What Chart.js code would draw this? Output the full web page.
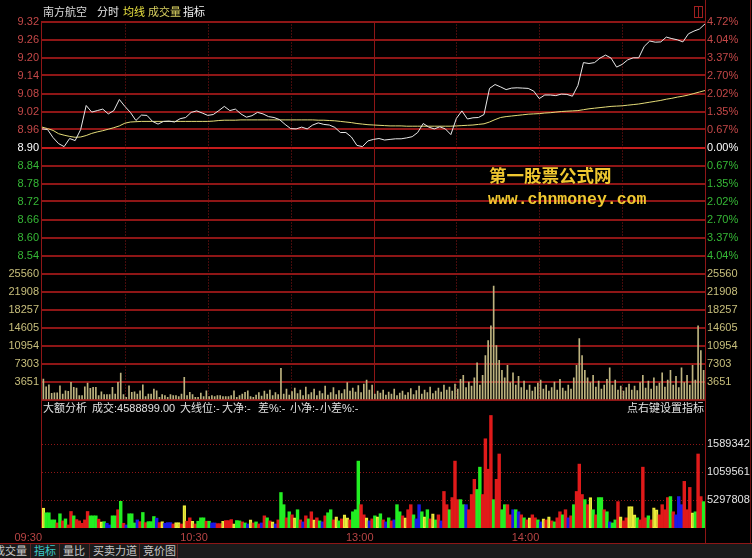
<!DOCTYPE html>
<html><head><meta charset="utf-8">
<script src="https://cdn.jsdelivr.net/npm/chart.js@4.4.1/dist/chart.umd.min.js"></script>
<style>
html,body{margin:0;padding:0;background:#000;width:752px;height:558px;overflow:hidden;}
#wrap{position:relative;width:752px;height:558px;background:#000;font-family:"Liberation Sans","Noto Sans CJK SC",sans-serif;font-size:11px;overflow:hidden;}
canvas{position:absolute;left:0;}
.t{position:absolute;white-space:nowrap;line-height:14px;color:#e0e0e0;}
.ln{position:absolute;background:#8e1616;}
.tab{position:absolute;top:544px;height:14px;line-height:14px;color:#c8c8c8;white-space:nowrap;}
.sep{position:absolute;top:544px;width:1px;height:14px;background:#5a2626;}
</style></head><body><div id="wrap">
<canvas id="cPrice" width="752" height="286" style="top:0px"></canvas>
<canvas id="cVol" width="752" height="150" style="top:262px"></canvas>
<canvas id="cBig" width="752" height="155" style="top:388px"></canvas>

<div class="ln" style="left:41px;top:21px;width:1px;height:507px"></div>
<div class="ln" style="left:705px;top:0px;width:1px;height:543px"></div>
<div class="ln" style="left:750px;top:0px;width:1px;height:543px;background:#6a1010"></div>
<div class="ln" style="left:0px;top:543px;width:752px;height:1px"></div>
<div style="position:absolute;left:694px;top:6px;width:7px;height:10px;border:1px solid #a02020"></div>
<div style="position:absolute;left:698px;top:7px;width:1px;height:10px;background:#a02020"></div>

<div class="t" style="left:43px;top:5px;color:#d8d8d8" id="hName"></div>
<div class="t" style="left:97px;top:5px;color:#e8e8e8">分时</div>
<div class="t" style="left:123px;top:5px;color:#e8e040">均线</div>
<div class="t" style="left:148px;top:5px;color:#d8d060">成交量</div>
<div class="t" style="left:183px;top:5px;color:#f0f0f0">指标</div>

<div class="t" style="left:489px;top:163px;font:bold 17.5px 'Noto Sans CJK SC';line-height:24px;color:#f0c830">第一股票公式网</div>
<div class="t" style="left:488px;top:191px;font:bold 16.5px 'Liberation Mono';line-height:18px;color:#f0c830">www.chnmoney.com</div>

<div class="t" style="left:43px;top:401px">大额分析</div>
<div class="t" style="left:92px;top:401px">成交:4588899.00</div>
<div class="t" style="left:180px;top:401px">大线位:-</div>
<div class="t" style="left:222px;top:401px">大净:-</div>
<div class="t" style="left:258px;top:401px">差%:-</div>
<div class="t" style="left:290px;top:401px">小净:-</div>
<div class="t" style="left:320px;top:401px">小差%:-</div>
<div class="t" style="left:627px;top:401px">点右键设置指标</div>

<div style="position:absolute;left:0;top:544px;width:752px;height:14px;background:#1b1b1b"></div>
<div class="tab" style="left:-6px">成交量</div>
<div class="sep" style="left:30px"></div>
<div class="tab" style="left:34px;color:#3cc8c8">指标</div>
<div class="sep" style="left:59px"></div>
<div class="tab" style="left:63px">量比</div>
<div class="sep" style="left:89px"></div>
<div class="tab" style="left:93px">买卖力道</div>
<div class="sep" style="left:139px"></div>
<div class="tab" style="left:143px">竞价图</div>
<div class="sep" style="left:177px"></div>
</div>
<script>
const stockName = '南方航空';
const prevClose = 8.90;
const priceTicks = [9.32,9.26,9.20,9.14,9.08,9.02,8.96,8.90,8.84,8.78,8.72,8.66,8.60,8.54,8.48];
const volTicks = [0,3651,7303,10954,14605,18257,21908,25560];
const bigTicks = [529780.8,1059561.6,1589342.4];
const bigTickLabels = ['5297808','1059561','1589342'];
const timeTickMinutes = [0,60,120,180];
const timeTickLabels = ['09:30','10:30','13:00','14:00'];

// price every 2 minutes, 09:30 .. 15:00
const priceVals = [
 8.962,8.960,8.933,8.913,8.903,8.930,8.923,8.960,9.040,9.018,
 9.023,9.028,9.012,9.023,9.060,9.037,9.017,8.990,9.008,9.007,
 8.987,8.978,8.987,8.988,8.985,8.996,9.000,9.017,9.022,9.015,
 9.007,9.010,9.023,9.037,9.023,9.028,9.012,9.001,9.006,9.017,
 9.012,9.003,9.000,8.993,8.977,8.963,8.962,8.968,8.962,8.975,
 8.982,8.977,8.975,8.967,8.950,8.950,8.935,8.907,8.903,8.922,
 8.927,8.930,8.925,8.927,8.929,8.929,8.932,8.936,8.950,8.980,
 8.968,8.962,8.969,8.962,8.943,8.997,9.022,8.995,8.999,9.000,
 9.010,9.097,9.110,9.102,9.093,9.098,9.099,9.098,9.097,9.088,
 9.063,9.075,9.075,9.073,9.078,9.077,9.071,9.107,9.183,9.180,
 9.183,9.198,9.208,9.198,9.168,9.177,9.192,9.199,9.199,9.237,
 9.255,9.251,9.252,9.268,9.263,9.259,9.252,9.279,9.288,9.295,
 9.312];
const avgVals = [
 8.968,8.963,8.957,8.946,8.941,8.937,8.934,8.935,8.940,8.947,
 8.952,8.956,8.961,8.966,8.972,8.981,8.985,8.986,8.987,8.987,
 8.987,8.987,8.987,8.987,8.987,8.987,8.987,8.987,8.987,8.987,
 8.987,8.988,8.990,8.991,8.991,8.991,8.992,8.992,8.992,8.992,
 8.992,8.992,8.992,8.992,8.992,8.992,8.992,8.992,8.992,8.992,
 8.991,8.991,8.990,8.989,8.987,8.985,8.983,8.980,8.978,8.976,
 8.975,8.974,8.973,8.972,8.972,8.972,8.971,8.971,8.971,8.971,
 8.971,8.971,8.971,8.971,8.971,8.972,8.973,8.974,8.975,8.977,
 8.979,8.985,8.993,9.000,9.003,9.005,9.007,9.009,9.011,9.012,
 9.013,9.015,9.016,9.018,9.020,9.021,9.022,9.023,9.026,9.029,
 9.031,9.033,9.035,9.037,9.038,9.039,9.041,9.043,9.045,9.048,
 9.051,9.054,9.057,9.061,9.064,9.068,9.071,9.075,9.080,9.085,
 9.090];
// volume per minute
const volVals = [
 4230,2680,3080,1350,1470,1470,2880,1210,1870,1750,
 3560,2560,2420,870,870,2680,3420,2350,2560,2560,
 870,1670,1070,1070,1070,2560,1210,3560,5430,1070,
 540,2880,1550,1670,1210,1870,3080,670,1210,1210,
 2210,1870,540,1070,870,540,1070,870,870,670,
 1210,4570,870,1550,1070,540,540,1410,670,1870,
 670,870,670,870,870,670,670,670,870,1870,
 540,870,1210,1550,1870,670,540,1000,1500,800,
 1800,1200,2000,900,1500,1100,6400,1200,2200,1000,
 1700,2400,1300,2000,900,2600,1100,1500,2200,900,
 1800,1300,2800,1000,1500,2500,1100,1900,1300,2100,
 3500,1800,2400,1600,2900,1500,3200,4000,2000,3000,
 1200,1800,1400,2000,1000,1600,1200,2200,900,1400,
 1800,1000,1500,2300,1100,1900,2800,1200,2000,1500,
 2600,1300,1800,2400,1600,3000,2000,2600,1800,3200,
 2200,4200,5000,2500,3600,2800,4500,7500,3000,5000,
 9000,12000,15000,23000,11000,8000,6000,4500,7000,3500,
 5500,3000,4800,2500,3800,2000,3000,1800,2600,3400,
 4000,2200,3000,1800,2500,3600,2000,4200,2400,1800,
 3000,2200,4500,7000,12400,9000,6000,4500,3500,5000,
 2600,3800,2200,3000,4200,6500,3000,4000,2000,2800,
 1800,2500,3200,2000,2800,1900,3500,5000,2400,3800,
 2200,4500,2800,3400,5500,2600,4000,6000,3000,4800,
 2500,6500,3500,5000,3000,7000,4000,15000,10000,6000];
// big-order analysis per minute
const bigVals = [
 380000,289000,289000,154000,154000,96000,270000,135000,173000,58000,
 314000,231000,160000,135000,90000,154000,314000,231000,231000,231000,
 168000,116000,121000,90000,58000,231000,231000,347000,507000,90000,
 58000,270000,270000,96000,154000,121000,295000,102000,121000,121000,
 218000,187000,102000,121000,90000,102000,102000,77000,102000,102000,
 77000,424000,129000,193000,129000,77000,129000,193000,193000,129000,
 129000,96000,96000,83000,83000,129000,141000,141000,160000,77000,
 141000,135000,116000,96000,77000,154000,96000,116000,77000,96000,
 231000,193000,135000,116000,77000,154000,674000,443000,193000,308000,
 250000,193000,347000,154000,116000,231000,173000,308000,154000,193000,
 135000,116000,231000,289000,347000,154000,212000,135000,173000,250000,
 193000,154000,308000,347000,1271000,443000,250000,193000,135000,173000,
 231000,212000,270000,154000,116000,193000,135000,154000,443000,308000,
 231000,193000,347000,443000,250000,173000,443000,308000,212000,347000,
 173000,270000,154000,250000,135000,694000,443000,347000,578000,1271000,
 539000,539000,443000,443000,347000,636000,925000,732000,1156000,636000,
 1695000,1117000,2138000,539000,925000,1406000,347000,443000,443000,250000,
 347000,347000,308000,250000,193000,154000,193000,250000,193000,154000,
 116000,173000,154000,212000,135000,116000,193000,308000,250000,347000,
 193000,231000,443000,694000,1214000,636000,539000,443000,578000,347000,
 250000,578000,578000,347000,308000,116000,96000,154000,501000,212000,
 135000,193000,405000,405000,250000,193000,154000,1156000,193000,231000,
 154000,385000,347000,250000,443000,347000,578000,597000,308000,250000,
 597000,443000,886000,347000,771000,289000,308000,1406000,597000,501000];
// R = red, G = green, B = blue, Y = hollow yellow
const bigTypes = (
 'YGGGGRGRGR'+'RGRRRRRGGG'+'RYGBBGGRGR'+'BGGGBRGRGG'+'GBRYBBBRYY'+'RYRRYRGGGR'+
 'GBBRRYRRRY'+'GGRGBYRGRB'+'RGRYBRGGRG'+'RYGRBRGRYR'+'GBRGGRYGRY'+'YRGGGRRYBR'+
 'GYGRBGRBGG'+'RYRRGBBGYG'+'RYGRBRRGRR'+'RGGBRRRGGR'+'RRRGRRGGRR'+'BGBRGRYRRG'+
 'BYRYRGRRGR'+'BRGRRRGRYG'+'RGGRGBGGRY'+'RRYYYGRRRG'+'RYYRRRRGRB'+'BBRRRYGRRG').split('');

document.getElementById('hName').textContent = stockName;

function minuteToTime(m){
  const t = m <= 120 ? 9*60+30+m : 13*60+(m-120);
  return String(Math.floor(t/60)).padStart(2,'0')+':'+String(t%60).padStart(2,'0');
}
const priceLabels = priceVals.map((_,i)=>minuteToTime(i*2));
const minuteLabels = volVals.map((_,i)=>minuteToTime(i+1));

Chart.defaults.font.family = "'Liberation Sans','Noto Sans CJK SC',sans-serif";
Chart.defaults.font.size = 11;

const gridRed = '#8e1616';
const upColor = '#c44848', downColor = '#36b836', flatColor = '#ffffff';
const bigColorMap = {R:'#e01a1a', G:'#22ee22', B:'#1a1ae6', Y:'rgba(0,0,0,0)'};

const vGrid = {
  id: 'vGrid',
  beforeDatasetsDraw(chart){
    const {ctx, chartArea:a} = chart;
    ctx.save();
    ctx.strokeStyle = gridRed; ctx.lineWidth = 1;
    for (let k=1;k<8;k++){
      const x = Math.round(a.left + a.width*k/8) + 0.5;
      ctx.setLineDash(k===4 ? [] : [1,2]);
      ctx.beginPath(); ctx.moveTo(x,a.top); ctx.lineTo(x,a.bottom); ctx.stroke();
    }
    ctx.restore();
  }
};
const setTicks = arr => s => { s.ticks = arr.map(v=>({value:v})); };
const priceColor = c => { const v=c.tick.value; return v>prevClose+1e-6?upColor:(v<prevClose-1e-6?downColor:flatColor); };
const base = {responsive:false, animation:false, events:[], plugins:{legend:{display:false}, tooltip:{enabled:false}}};

new Chart(document.getElementById('cPrice'), {
  type:'line',
  data:{labels:priceLabels, datasets:[
    {data:priceVals, borderColor:'#e8e8e8', borderWidth:1, pointRadius:0, tension:0},
    {data:avgVals, borderColor:'#e4dc78', borderWidth:1, pointRadius:0, tension:0}
  ]},
  options:Object.assign({}, base, {
    layout:{padding:{top:21.5, bottom:12.5, left:0, right:0}},
    scales:{
      x:{type:'category', display:false, offset:false},
      y:{position:'left', min:8.48, max:9.32, afterBuildTicks:setTicks(priceTicks), afterFit:s=>{s.width=42;},
         border:{display:false},
         grid:{color:c=>Math.abs(c.tick.value-prevClose)<1e-6?'#c41c1c':gridRed, lineWidth:2, drawTicks:false},
         ticks:{padding:3, color:priceColor, callback:v=>Math.abs(v-8.48)<1e-6?'':v.toFixed(2)}},
      y1:{position:'right', min:8.48, max:9.32, afterBuildTicks:setTicks(priceTicks), afterFit:s=>{s.width=47;},
         border:{display:false}, grid:{display:false, drawTicks:false},
         ticks:{padding:2, color:priceColor, callback:v=>Math.abs(v-8.48)<1e-6?'':(Math.abs(v-prevClose)/prevClose*100).toFixed(2)+'%'}}
    }
  }),
  plugins:[vGrid]
});

new Chart(document.getElementById('cVol'), {
  type:'bar',
  data:{labels:minuteLabels, datasets:[{data:volVals, backgroundColor:'#bdb37f', barThickness:1, borderWidth:0}]},
  options:Object.assign({}, base, {
    layout:{padding:{top:11.5, bottom:12, left:0, right:0}},
    scales:{
      x:{type:'category', display:false, offset:true},
      y:{position:'left', min:0, max:25560, afterBuildTicks:setTicks(volTicks), afterFit:s=>{s.width=42;},
         border:{display:false}, grid:{color:gridRed, lineWidth:2, drawTicks:false},
         ticks:{padding:3, color:'#c8bf7c', callback:v=>v===0?'':String(v)}},
      y1:{position:'right', min:0, max:25560, afterBuildTicks:setTicks(volTicks), afterFit:s=>{s.width=47;},
         border:{display:false}, grid:{display:false, drawTicks:false},
         ticks:{padding:2, color:'#c8bf7c', callback:v=>v===0?'':String(v)}}
    }
  }),
  plugins:[vGrid]
});

new Chart(document.getElementById('cBig'), {
  type:'bar',
  data:{labels:minuteLabels, datasets:[{
    data:bigVals,
    backgroundColor:c=>bigColorMap[bigTypes[c.dataIndex]],
    borderColor:'#ecec3a',
    borderWidth:c=>bigTypes[c.dataIndex]==='Y'?1:0,
    borderSkipped:false,
    barPercentage:1, categoryPercentage:1, xAxisID:'x'}]},
  options:Object.assign({}, base, {
    layout:{padding:{top:12, bottom:0, left:42, right:0}},
    scales:{
      x:{type:'category', display:false, offset:true},
      xt:{type:'linear', position:'bottom', min:0, max:240, offset:false, afterBuildTicks:setTicks(timeTickMinutes), afterFit:s=>{s.height=15;},
          grid:{display:false, drawTicks:false, offset:false}, border:{display:false},
          ticks:{align:'end', color:'#b84444', padding:3, autoSkip:false, maxRotation:0, callback:(v,i)=>timeTickLabels[i]}},
      y:{position:'right', min:0, max:2432000, afterBuildTicks:setTicks(bigTicks), afterFit:s=>{s.width=47;},
         border:{display:false, dash:[1,2]}, grid:{color:gridRed, lineWidth:1, drawTicks:false},
         ticks:{padding:2, color:'#e4e4e4', callback:(v,i)=>bigTickLabels[i]}}
    }
  })
});
</script>
</body></html>
